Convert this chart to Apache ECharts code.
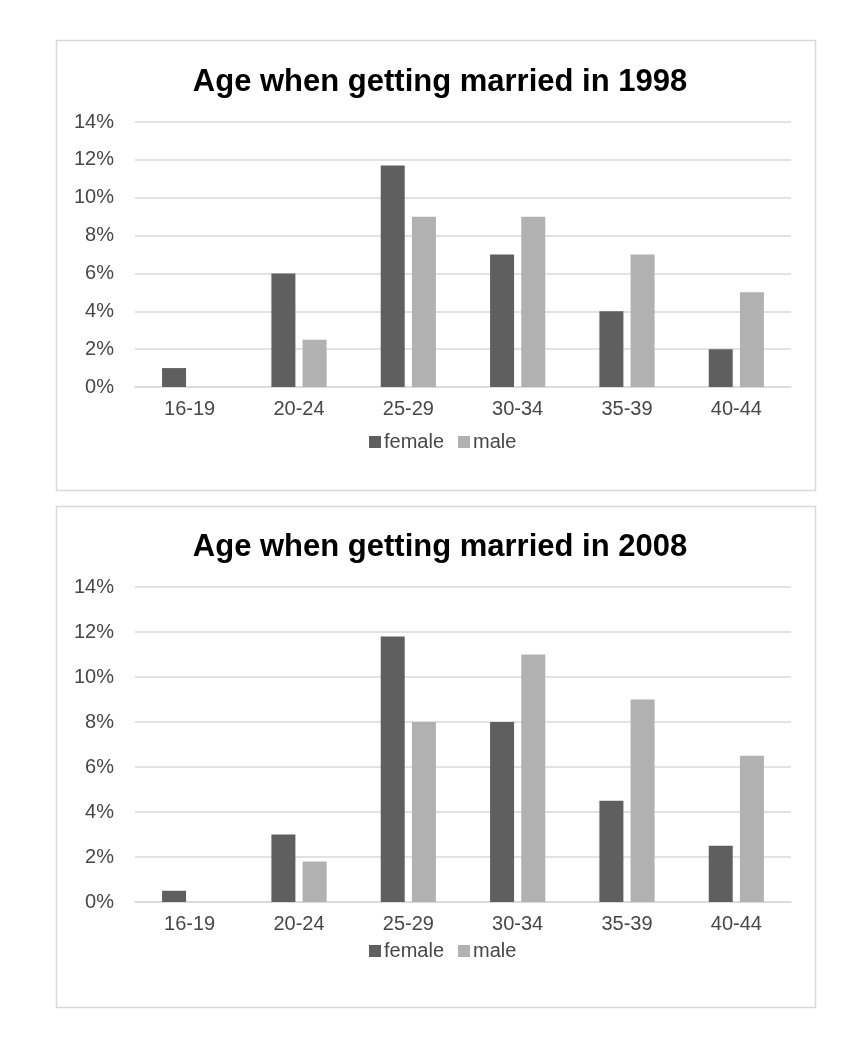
<!DOCTYPE html>
<html>
<head>
<meta charset="utf-8">
<style>
html,body{margin:0;padding:0;background:#fff;}
#c{width:848px;height:1044px;}
</style>
<script src="https://cdn.jsdelivr.net/npm/echarts@6/dist/echarts.min.js"></script>
</head>
<body>
<div id="c"></div>
<script>
const categories = ['16-19','20-24','25-29','30-34','35-39','40-44'];
const female1998 = [1, 6, 11.7, 7, 4, 2];
const male1998   = [0, 2.5, 9, 9, 7, 5];
const female2008 = [0.5, 3, 11.8, 8, 4.5, 2.5];
const male2008   = [0, 1.8, 8, 11, 9, 6.5];
const titles = ['Age when getting married in 1998', 'Age when getting married in 2008'];
const seriesNames = ['female', 'male'];

const FEMALE = '#5f5f5f', MALE = '#b1b1b1';
const LABEL = '#474747';
const font = 'Liberation Sans, Arial, sans-serif';
const chart = echarts.init(document.getElementById('c'));

function yAxis(i){
  return {type:'value', gridIndex:i, min:0, max:14, interval:2,
    axisLabel:{formatter:v=>v+'%', color:LABEL, fontSize:20, fontFamily:font, margin:21},
    axisLine:{show:false}, axisTick:{show:false},
    splitLine:{lineStyle:{color:'#d9d9d9', width:1.5}}};
}
function xAxis(i){
  return {type:'category', gridIndex:i, data:categories,
    axisLabel:{color:LABEL, fontSize:20, fontFamily:font, margin:12},
    axisLine:{lineStyle:{color:'#d9d9d9', width:1.5}}, axisTick:{show:false}};
}
function bars(name, data, color, i){
  return {name, type:'bar', xAxisIndex:i, yAxisIndex:i, data,
    barWidth:24, barGap:'30%', itemStyle:{color}};
}
function legend(top){
  return {data:seriesNames, left:364, top, icon:'rect', itemWidth:12, itemHeight:12, itemGap:14,
    textStyle:{fontSize:20, fontFamily:font, color:LABEL, padding:[0,0,0,-2]}};
}

chart.setOption({
  animation:false,
  graphic:[
    {type:'rect', shape:{x:56.5, y:40.5, width:759, height:450}, style:{fill:'none', stroke:'#d9d9d9', lineWidth:1.5}},
    {type:'rect', shape:{x:56.5, y:506.5, width:759, height:501}, style:{fill:'none', stroke:'#d9d9d9', lineWidth:1.5}}
  ],
  title:[
    {text:titles[0], left:435, top:62, textAlign:'center',
      textStyle:{fontFamily:font, fontWeight:'bold', fontSize:31, color:'#000'}},
    {text:titles[1], left:435, top:527, textAlign:'center',
      textStyle:{fontFamily:font, fontWeight:'bold', fontSize:31, color:'#000'}}
  ],
  legend:[legend(427), legend(936)],
  grid:[
    {left:135, top:122, width:656, height:265},
    {left:135, top:587, width:656, height:315}
  ],
  xAxis:[xAxis(0), xAxis(1)],
  yAxis:[yAxis(0), yAxis(1)],
  series:[
    bars('female', female1998, FEMALE, 0),
    bars('male', male1998, MALE, 0),
    bars('female', female2008, FEMALE, 1),
    bars('male', male2008, MALE, 1)
  ]
});
</script>
</body>
</html>
